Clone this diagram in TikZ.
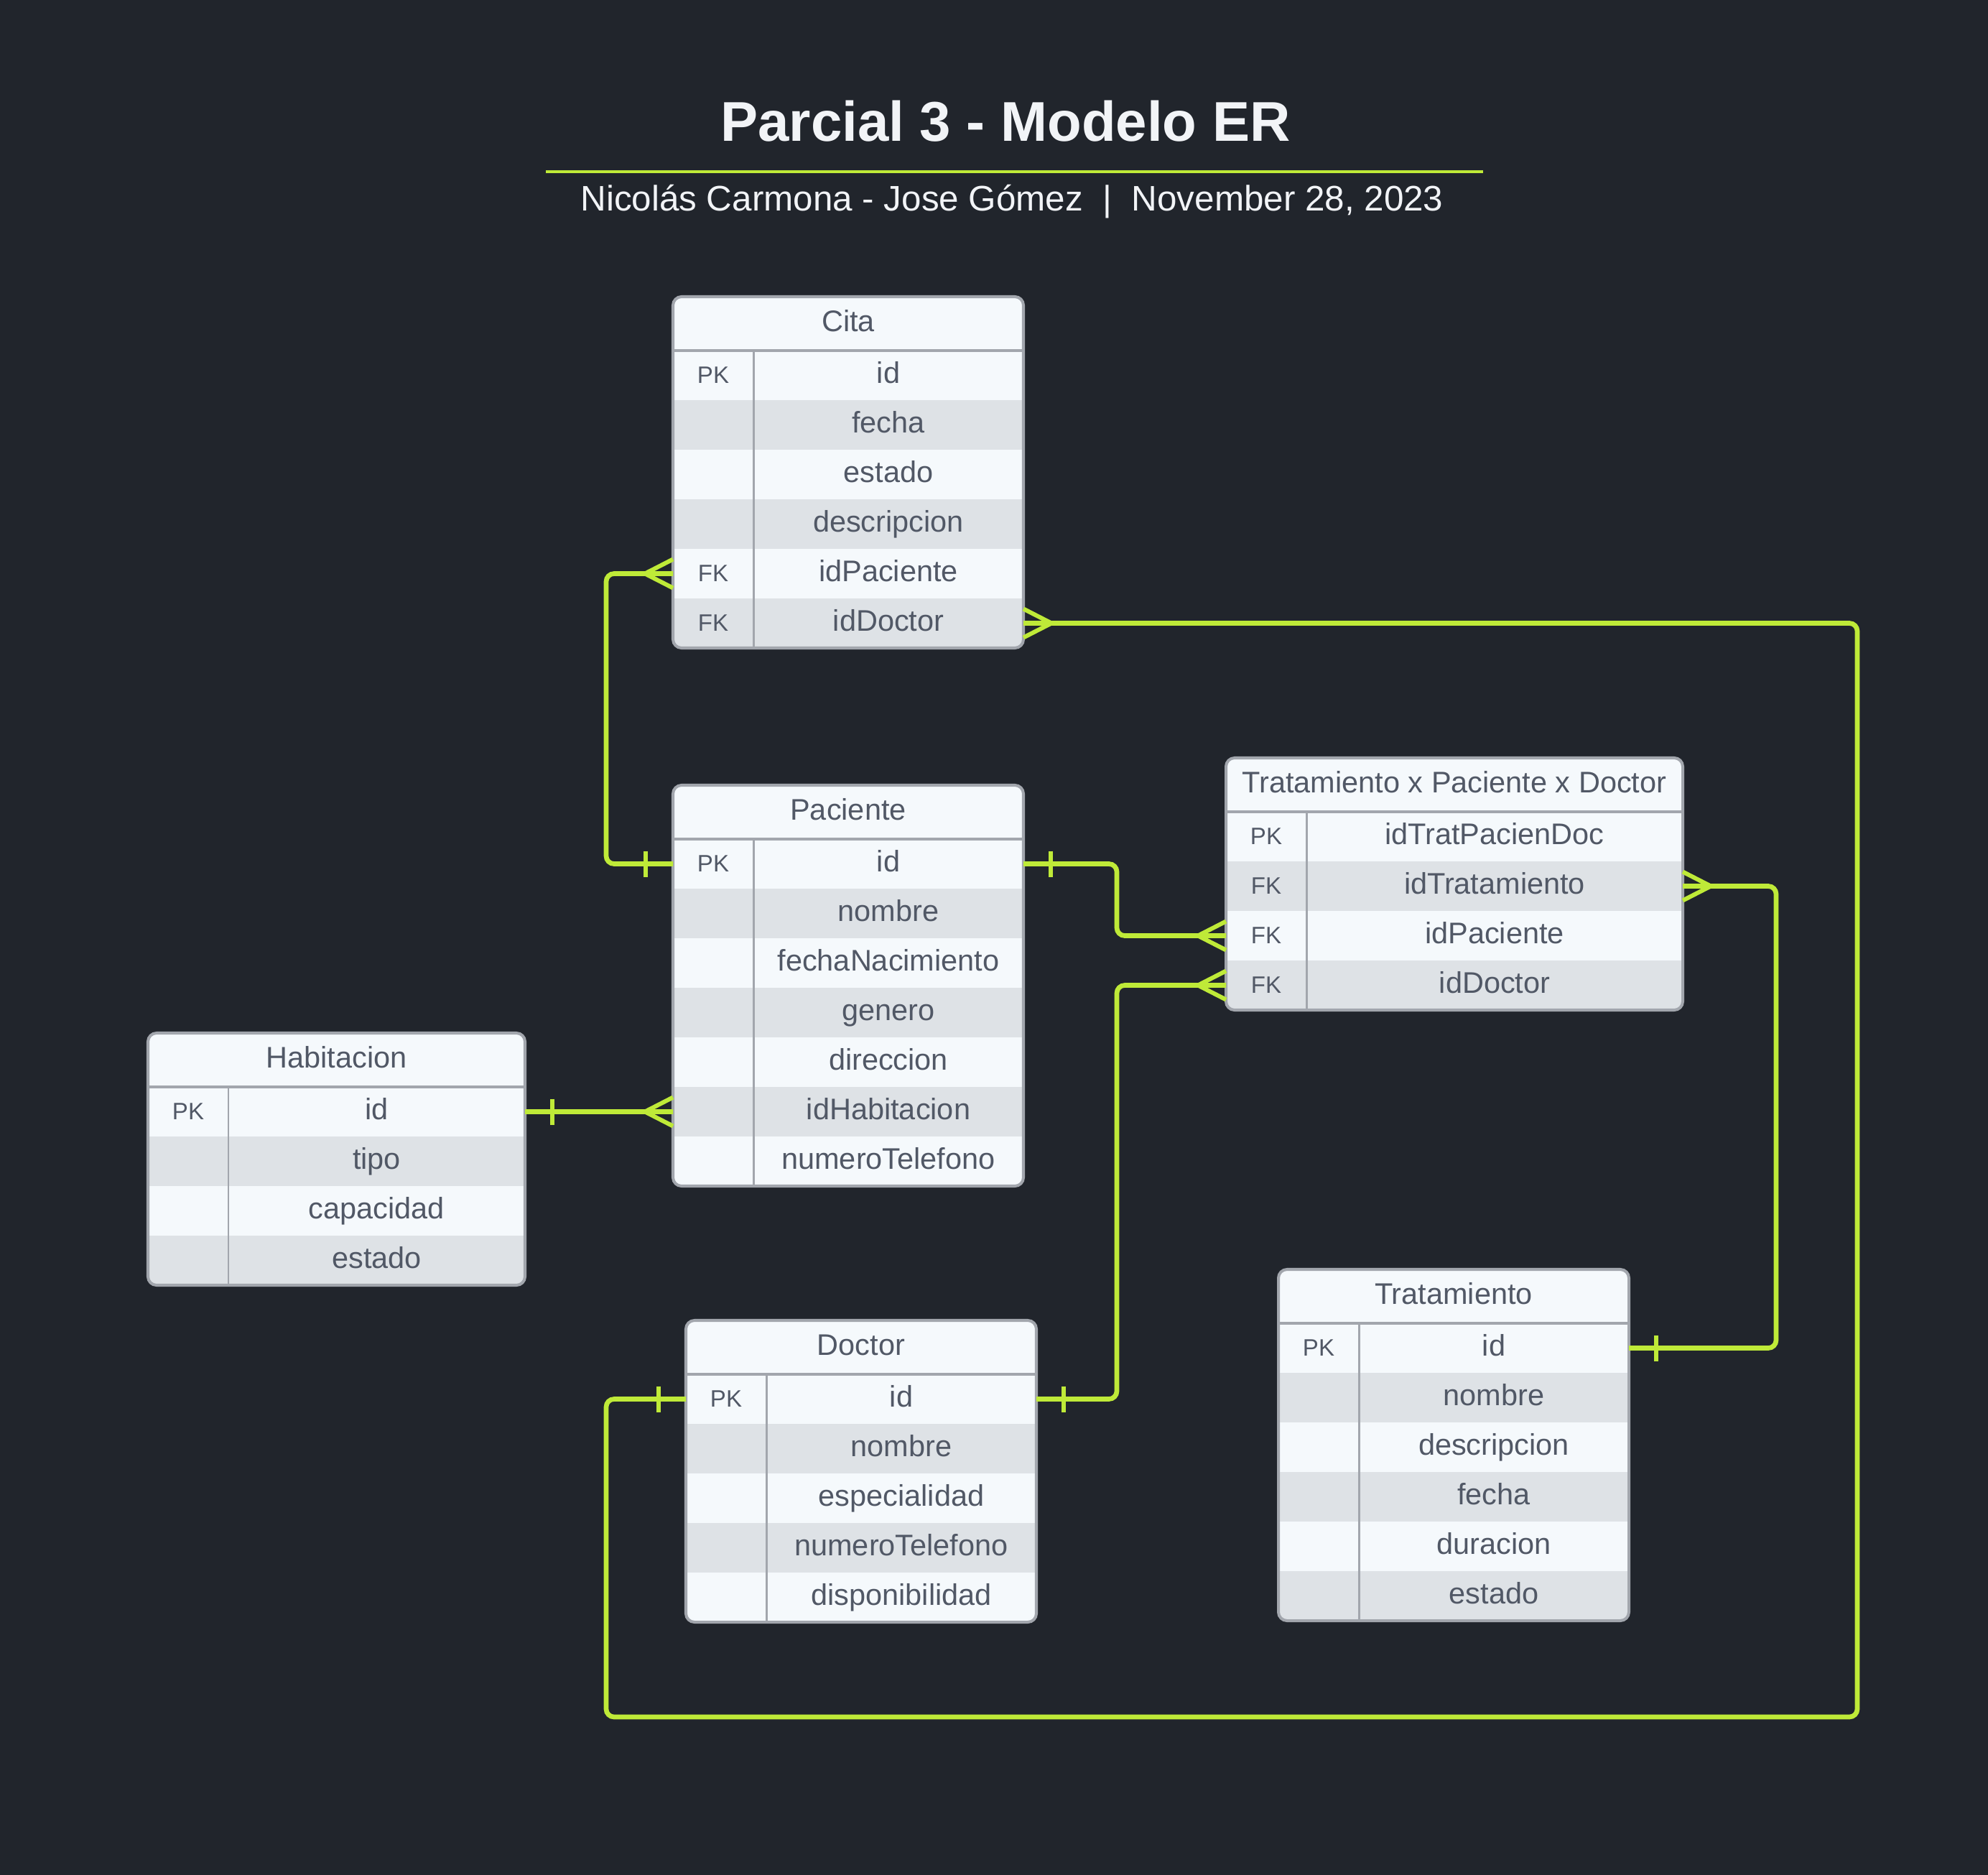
\documentclass[tikz,border=0pt]{standalone}
\usepackage{fontspec}
\setmainfont{Liberation Sans}
\usetikzlibrary{positioning}
\definecolor{BackClr}{HTML}{21252C}
\definecolor{LineClr}{HTML}{BFEA38}
\definecolor{RowLtClr}{HTML}{F5F9FC}
\definecolor{RowDkClr}{HTML}{DEE2E6}
\definecolor{TxtClr}{HTML}{515866}
\definecolor{EdgeClr}{HTML}{A2A6AD}
\definecolor{TitleClr}{HTML}{F2F4F7}

\tikzset{
  cell/.style={text=TxtClr,inner sep=0pt,outer sep=0pt,minimum height=0.69cm,
    text height=8.9pt,text depth=2.4pt,font=\fontsize{11.8}{14}\selectfont},
  hdr/.style={cell,minimum height=0.75cm,minimum width=#1,anchor=north west,fill=RowLtClr},
  fld/.style={cell,minimum width=#1},
  keyc/.style={cell,minimum width=1.12cm,font=\fontsize{9.4}{11}\selectfont},
  lt/.style={fill=RowLtClr},
  dk/.style={fill=RowDkClr},
  sepline/.style={draw=EdgeClr,line width=1.15pt},
  colline/.style={draw=EdgeClr,line width=0.85pt},
  tblbox/.style={draw=EdgeClr,line width=1.15pt,rounded corners=0.12cm},
  relline/.style={draw=LineClr,line width=1.9pt,rounded corners=0.11cm},
  crowfoot/.pic={\draw[LineClr,line width=1.7pt] (0,0.2) -- (-0.39,0) -- (0,-0.2);},
  onebar/.pic={\draw[LineClr,line width=1.7pt] (-0.38,0.18) -- (-0.38,-0.18);}
}

% frame of a table: header, first key cell, last field cell
\newcommand{\tblframe}[3]{%
  \fill[BackClr,even odd rule] (#1.north west) rectangle (#3.south east)
    [rounded corners=0.12cm] (#1.north west) rectangle (#3.south east);
  \draw[sepline] (#1.south west) -- (#1.south east);
  \draw[colline] (#2.north east) -- (#2.north east |- #3.south);
  \draw[tblbox] (#1.north west) rectangle (#3.south east);
}

\begin{document}
\begin{tikzpicture}
\useasboundingbox (0,0) rectangle (27.68,-26.10);
\fill[BackClr] (0,0) rectangle (27.68,-26.10);

% title
\node[text=TitleClr,font=\fontsize{22.2}{26}\bfseries,anchor=base] (ttl) at (14.00,-1.967) {Parcial 3 - Modelo ER};
\coordinate (rulA) at (7.60,-2.39);
\coordinate (rulB) at (20.65,-2.39);
\draw[LineClr,line width=1.42pt] (rulA) -- (rulB);
\node[text=TitleClr,font=\fontsize{14.05}{17}\selectfont,anchor=base] (sub) at (14.09,-2.94) {Nicolás Carmona - Jose Gómez~~|~~November 28, 2023};

% Cita
\node[hdr=4.88cm] (ct) at (9.37,-4.13) {Cita};
\node[fld=3.76cm,lt,anchor=north east] (ctf1) at (ct.south east) {id}; \node[keyc,lt,left=0pt of ctf1] (ctk1) {PK};
\node[fld=3.76cm,dk,below=0pt of ctf1] (ctf2) {fecha}; \node[keyc,dk,left=0pt of ctf2] (ctk2) {};
\node[fld=3.76cm,lt,below=0pt of ctf2] (ctf3) {estado}; \node[keyc,lt,left=0pt of ctf3] (ctk3) {};
\node[fld=3.76cm,dk,below=0pt of ctf3] (ctf4) {descripcion}; \node[keyc,dk,left=0pt of ctf4] (ctk4) {};
\node[fld=3.76cm,lt,below=0pt of ctf4] (ctf5) {idPaciente}; \node[keyc,lt,left=0pt of ctf5] (ctk5) {FK};
\node[fld=3.76cm,dk,below=0pt of ctf5] (ctf6) {idDoctor}; \node[keyc,dk,left=0pt of ctf6] (ctk6) {FK};
\tblframe{ct}{ctk1}{ctf6}

% Paciente
\node[hdr=4.88cm] (pc) at (9.37,-10.93) {Paciente};
\node[fld=3.76cm,lt,anchor=north east] (pcf1) at (pc.south east) {id}; \node[keyc,lt,left=0pt of pcf1] (pck1) {PK};
\node[fld=3.76cm,dk,below=0pt of pcf1] (pcf2) {nombre}; \node[keyc,dk,left=0pt of pcf2] (pck2) {};
\node[fld=3.76cm,lt,below=0pt of pcf2] (pcf3) {fechaNacimiento}; \node[keyc,lt,left=0pt of pcf3] (pck3) {};
\node[fld=3.76cm,dk,below=0pt of pcf3] (pcf4) {genero}; \node[keyc,dk,left=0pt of pcf4] (pck4) {};
\node[fld=3.76cm,lt,below=0pt of pcf4] (pcf5) {direccion}; \node[keyc,lt,left=0pt of pcf5] (pck5) {};
\node[fld=3.76cm,dk,below=0pt of pcf5] (pcf6) {idHabitacion}; \node[keyc,dk,left=0pt of pcf6] (pck6) {};
\node[fld=3.76cm,lt,below=0pt of pcf6] (pcf7) {numeroTelefono}; \node[keyc,lt,left=0pt of pcf7] (pck7) {};
\tblframe{pc}{pck1}{pcf7}

% Habitacion
\node[hdr=5.25cm] (hb) at (2.06,-14.38) {Habitacion};
\node[fld=4.13cm,lt,anchor=north east] (hbf1) at (hb.south east) {id}; \node[keyc,lt,left=0pt of hbf1] (hbk1) {PK};
\node[fld=4.13cm,dk,below=0pt of hbf1] (hbf2) {tipo}; \node[keyc,dk,left=0pt of hbf2] (hbk2) {};
\node[fld=4.13cm,lt,below=0pt of hbf2] (hbf3) {capacidad}; \node[keyc,lt,left=0pt of hbf3] (hbk3) {};
\node[fld=4.13cm,dk,below=0pt of hbf3] (hbf4) {estado}; \node[keyc,dk,left=0pt of hbf4] (hbk4) {};
\tblframe{hb}{hbk1}{hbf4}

% Doctor
\node[hdr=4.88cm] (dc) at (9.55,-18.38) {Doctor};
\node[fld=3.76cm,lt,anchor=north east] (dcf1) at (dc.south east) {id}; \node[keyc,lt,left=0pt of dcf1] (dck1) {PK};
\node[fld=3.76cm,dk,below=0pt of dcf1] (dcf2) {nombre}; \node[keyc,dk,left=0pt of dcf2] (dck2) {};
\node[fld=3.76cm,lt,below=0pt of dcf2] (dcf3) {especialidad}; \node[keyc,lt,left=0pt of dcf3] (dck3) {};
\node[fld=3.76cm,dk,below=0pt of dcf3] (dcf4) {numeroTelefono}; \node[keyc,dk,left=0pt of dcf4] (dck4) {};
\node[fld=3.76cm,lt,below=0pt of dcf4] (dcf5) {disponibilidad}; \node[keyc,lt,left=0pt of dcf5] (dck5) {};
\tblframe{dc}{dck1}{dcf5}

% Tratamiento x Paciente x Doctor
\node[hdr=6.36cm] (tp) at (17.07,-10.55) {Tratamiento x Paciente x Doctor};
\node[fld=5.24cm,lt,anchor=north east] (tpf1) at (tp.south east) {idTratPacienDoc}; \node[keyc,lt,left=0pt of tpf1] (tpk1) {PK};
\node[fld=5.24cm,dk,below=0pt of tpf1] (tpf2) {idTratamiento}; \node[keyc,dk,left=0pt of tpf2] (tpk2) {FK};
\node[fld=5.24cm,lt,below=0pt of tpf2] (tpf3) {idPaciente}; \node[keyc,lt,left=0pt of tpf3] (tpk3) {FK};
\node[fld=5.24cm,dk,below=0pt of tpf3] (tpf4) {idDoctor}; \node[keyc,dk,left=0pt of tpf4] (tpk4) {FK};
\tblframe{tp}{tpk1}{tpf4}

% Tratamiento
\node[hdr=4.88cm] (tr) at (17.80,-17.67) {Tratamiento};
\node[fld=3.76cm,lt,anchor=north east] (trf1) at (tr.south east) {id}; \node[keyc,lt,left=0pt of trf1] (trk1) {PK};
\node[fld=3.76cm,dk,below=0pt of trf1] (trf2) {nombre}; \node[keyc,dk,left=0pt of trf2] (trk2) {};
\node[fld=3.76cm,lt,below=0pt of trf2] (trf3) {descripcion}; \node[keyc,lt,left=0pt of trf3] (trk3) {};
\node[fld=3.76cm,dk,below=0pt of trf3] (trf4) {fecha}; \node[keyc,dk,left=0pt of trf4] (trk4) {};
\node[fld=3.76cm,lt,below=0pt of trf4] (trf5) {duracion}; \node[keyc,lt,left=0pt of trf5] (trk5) {};
\node[fld=3.76cm,dk,below=0pt of trf5] (trf6) {estado}; \node[keyc,dk,left=0pt of trf6] (trk6) {};
\tblframe{tr}{trk1}{trf6}

% relations
\coordinate (lpR) at (25.86,-23.90);
\coordinate (lpL) at (8.44,-23.90);
\draw[relline] (pck1.west) -- ++(-0.93,0) |- (ctk5.west);
\draw[relline] (ctf6.east) -| (lpR) -- (lpL) |- (dck1.west);
\draw[relline] (pcf1.east) -- ++(1.30,0) |- (tpk3.west);
\draw[relline] (dcf1.east) -- ++(1.12,0) |- (tpk4.west);
\draw[relline] (tpf2.east) -- ++(1.30,0) |- (trf1.east);
\draw[relline] (hbf1.east) -- (pck6.west);

\pic at (pck1.west) {onebar};
\pic at (ctk5.west) {crowfoot};
\pic[xscale=-1] at (ctf6.east) {crowfoot};
\pic at (dck1.west) {onebar};
\pic[xscale=-1] at (pcf1.east) {onebar};
\pic at (tpk3.west) {crowfoot};
\pic[xscale=-1] at (dcf1.east) {onebar};
\pic at (tpk4.west) {crowfoot};
\pic[xscale=-1] at (tpf2.east) {crowfoot};
\pic[xscale=-1] at (trf1.east) {onebar};
\pic[xscale=-1] at (hbf1.east) {onebar};
\pic at (pck6.west) {crowfoot};
\end{tikzpicture}
\end{document}
